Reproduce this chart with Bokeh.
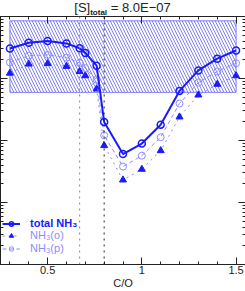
from bokeh.plotting import figure
from bokeh.models import (Range1d, LogAxis, LinearAxis, FixedTicker, LogTicker,
                          Span, Legend, LegendItem, Div, CustomJSTickFormatter)
from bokeh.layouts import column
from bokeh.embed import file_html
from bokeh.resources import INLINE

# ---- data ----
co = [0.3, 0.4, 0.5, 0.6, 0.67, 0.7, 0.76, 0.8, 0.9, 1.0, 1.1, 1.2, 1.3, 1.4, 1.5]
nh3_total = [0.305, 0.377, 0.402, 0.368, 0.308, 0.259, 0.161, 0.0199, 0.00605,
             0.00893, 0.0180, 0.0631, 0.135, 0.209, 0.283]
nh3_o = [0.122, 0.171, 0.174, 0.157, 0.130, 0.111, 0.0679, 0.00828, 0.00231,
         0.00344, 0.00687, 0.0240, 0.0542, 0.0807, 0.111]
nh3_p = [0.182, 0.234, 0.240, 0.217, 0.178, 0.147, 0.0953, 0.0121, 0.0038,
         0.00569, 0.0113, 0.0395, 0.0861, 0.130, 0.176]
band_x = [0.3, 1.5]
band_y = [0.0598, 0.851]
vline_gray = 0.67
vline_black = 0.80
x_major = [0.5, 1.0, 1.5]
x_minor = [0.3, 0.4, 0.5, 0.6, 0.7, 0.8, 0.9, 1.0, 1.1, 1.2, 1.3, 1.4, 1.5]
x_tick_labels = {0.5: "0.5", 1: "1", 1.5: "1.5"}
title_main = "[S]"
title_sub = "total"
title_rest = " = 8.0E\u221207"

BLUE = "#1a1aff"
LIGHT = "#8c8cff"
FONT = "Liberation Sans"

title = Div(text=('<div style="width:245px;height:15px;overflow:visible;text-align:center;'
                  'font-family:\'Liberation Sans\';font-size:13px;color:#222;'
                  'line-height:13px;white-space:nowrap">'
                  + title_main + '<span style="font-size:8px;font-weight:bold;'
                  'position:relative;top:3px">' + title_sub + '</span>'
                  + title_rest + '</div>'),
            width=245, height=15, margin=0)

p = figure(width=245, height=276, x_range=Range1d(0.25, 1.55),
           y_range=Range1d(1e-4, 1), y_axis_type="log",
           x_axis_location=None, y_axis_location=None,
           output_backend="svg", toolbar_location=None,
           min_border_left=0, min_border_right=0, min_border_top=1,
           min_border_bottom=0, margin=0)
p.grid.visible = False
p.outline_line_color = None
p.background_fill_color = "white"
p.border_fill_color = "white"

blank = CustomJSTickFormatter(code="return ''")
left = LogAxis(ticker=LogTicker(num_minor_ticks=10), formatter=blank)
right = LogAxis(ticker=LogTicker(num_minor_ticks=10), formatter=blank)
top = LinearAxis(ticker=FixedTicker(ticks=x_major, minor_ticks=x_minor), formatter=blank)
bottom = LinearAxis(ticker=FixedTicker(ticks=x_major, minor_ticks=x_minor),
                    axis_label="C/O", major_label_overrides=x_tick_labels)
p.add_layout(left, "left")
p.add_layout(right, "right")
p.add_layout(top, "above")
p.add_layout(bottom, "below")

for ax in [bottom, left, right, top]:
    ax.major_tick_in = 7
    ax.major_tick_out = 0
    ax.minor_tick_in = 3
    ax.minor_tick_out = 0
    ax.axis_line_color = "#222222"
    ax.major_tick_line_color = "#222222"
    ax.minor_tick_line_color = "#222222"

for ax in [left, right, top]:
    ax.major_label_standoff = 0

bottom.major_label_text_font = FONT
bottom.major_label_text_font_size = "11px"
bottom.major_label_text_color = "#222222"
bottom.major_label_standoff = 1
bottom.axis_label_text_font = FONT
bottom.axis_label_text_font_size = "11px"
bottom.axis_label_text_font_style = "normal"
bottom.axis_label_text_color = "#222222"
bottom.axis_label_standoff = 0

# hatched band
p.quad(left=band_x[0], right=band_x[1], bottom=band_y[0], top=band_y[1],
       fill_alpha=0, hatch_pattern="left_diagonal_line", hatch_color="#8080f0",
       hatch_scale=6, hatch_weight=1, line_color="#7b7bff", line_width=1)

# vertical dotted lines
p.add_layout(Span(location=vline_gray, dimension="height", line_color="#888888",
                  line_dash="dotted", line_width=1))
p.add_layout(Span(location=vline_black, dimension="height", line_color="#222222",
                  line_dash="dotted", line_width=1))

# series
lo = p.line(co, nh3_o, line_color=LIGHT, line_dash="dotted", line_width=1)
so = p.scatter(co, nh3_o, marker="triangle", size=7, fill_color=BLUE,
               line_color=BLUE)
lp = p.line(co, nh3_p, line_color=LIGHT, line_dash="4 3", line_width=1)
sp = p.scatter(co, nh3_p, marker="circle", size=7, fill_alpha=0,
               line_color=LIGHT, line_width=1)
lt = p.line(co, nh3_total, line_color=BLUE, line_width=2)
st = p.scatter(co, nh3_total, marker="circle", size=7, fill_alpha=0,
               line_color=BLUE, line_width=1.5)

def make_legend(label, renderers, y, color, style):
    leg = Legend(items=[LegendItem(label=label, renderers=renderers)],
                 location=(2, y), padding=0, margin=0, spacing=0,
                 glyph_width=18, glyph_height=11, label_height=11,
                 label_standoff=10, label_text_font=FONT,
                 label_text_font_size="11px", label_text_color=color,
                 label_text_font_style=style, background_fill_alpha=0,
                 border_line_alpha=0)
    p.add_layout(leg)

make_legend("total NH\u2083", [lt, st], 35, BLUE, "bold")
make_legend("NH\u2083(o)", [lo, so], 23, LIGHT, "normal")
make_legend("NH\u2083(p)", [lp, sp], 10, LIGHT, "normal")

layout = column(title, p, spacing=0, margin=0)
open("out.html", "w").write(file_html(layout, INLINE))
